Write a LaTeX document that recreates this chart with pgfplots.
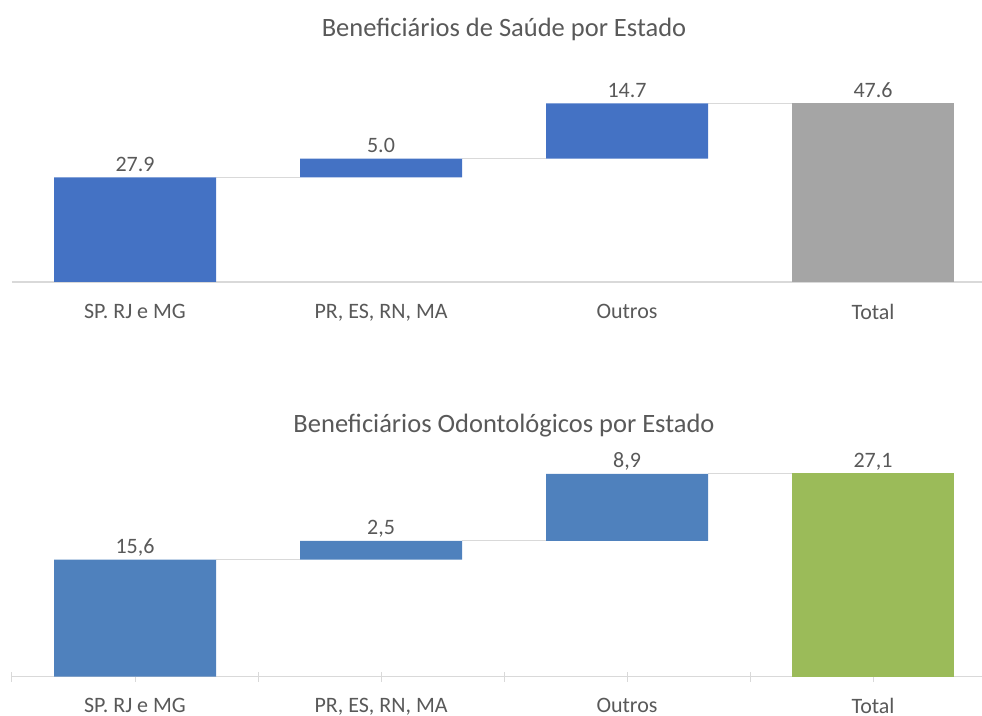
\documentclass[border=0pt]{standalone}
\usepackage{pgfplots}
\usepackage{pgfplotstable}
\pgfplotsset{compat=1.18}
\usepackage{fontspec}
\setmainfont{Carlito}
\definecolor{txt}{HTML}{595959}
\definecolor{axisgray}{HTML}{D9D9D9}
\definecolor{connc}{HTML}{D9D9D9}
\definecolor{blueA}{HTML}{4472C4}
\definecolor{grayA}{HTML}{A5A5A5}
\definecolor{blueB}{HTML}{4F81BD}
\definecolor{greenB}{HTML}{9BBB59}
\pgfplotstableread{
x top lab
0 27.9 27.9
1 32.9 5.0
2 47.6 14.7
3 47.6 47.6
}\labA
\pgfplotstableread{
x top lab
0 15.6 15,6
1 18.1 2,5
2 27.1 8,9
3 27.1 27,1
}\labB
\pgfplotsset{
  wf/.style={
    anchor=south west, scale only axis, width=970pt,
    xmin=-0.5, xmax=3.443, ymin=0,
    axis y line=none, axis x line*=bottom,
    x axis line style={-, draw=axisgray, line width=1.5pt},
    xtick={0,1,2,3},
    xticklabels={SP. RJ e MG, {PR, ES, RN, MA}, Outros, Total},
    xticklabel style={font=\fontsize{22}{26}\selectfont, text=txt, yshift=-19pt},
    clip=false,
  },
  lbl/.style={only marks, mark=none, point meta=explicit symbolic,
    nodes near coords={\pgfplotspointmeta},
    every node near coord/.append style={font=\fontsize{22}{26}\selectfont, text=txt, anchor=base, yshift=6pt, inner sep=0pt},
  },
  conn/.style={sharp plot, draw=connc, line width=1pt, mark=none},
}
\begin{document}
\begin{tikzpicture}[x=1pt,y=1pt]
\useasboundingbox (0,0) rectangle (982,715);
\node[font=\fontsize{26.5}{30}\selectfont, text=txt] at (504,686) {Beneficiários de Saúde por Estado};
\node[font=\fontsize{26.5}{30}\selectfont, text=txt] at (504,289) {Beneficiários Odontológicos por Estado};
% ---------- top chart ----------
\begin{axis}[wf, at={(12pt,433pt)}, height=202.5pt, ymax=54, hide axis]
\addplot[conn] coordinates {(0.33,27.9) (0.67,27.9)};
\addplot[conn] coordinates {(1.33,32.9) (1.67,32.9)};
\addplot[conn] coordinates {(2.33,47.6) (2.67,47.6)};
\addplot[lbl] table[x=x, y=top, meta=lab] {\labA};
\end{axis}
\begin{axis}[wf, at={(12pt,433pt)}, height=202.5pt, ymax=54,
  ybar stacked, bar width=162pt, major tick length=0pt]
\addplot[draw=none, fill=none] coordinates {(0,0) (1,27.9) (2,32.9) (3,0)};
\addplot[fill=blueA, draw=none] coordinates {(0,27.9) (1,5.0) (2,14.7) (3,0)};
\addplot[fill=grayA, draw=none] coordinates {(0,0) (1,0) (2,0) (3,47.6)};
\end{axis}
% ---------- bottom chart ----------
\begin{axis}[wf, at={(12pt,38.5pt)}, height=217.5pt, ymax=29, hide axis]
\addplot[conn] coordinates {(0.33,15.6) (0.67,15.6)};
\addplot[conn] coordinates {(1.33,18.1) (1.67,18.1)};
\addplot[conn] coordinates {(2.33,27.1) (2.67,27.1)};
\addplot[lbl] table[x=x, y=top, meta=lab] {\labB};
\end{axis}
\begin{axis}[wf, at={(12pt,38.5pt)}, height=217.5pt, ymax=29,
  ybar stacked, bar width=162pt,
  minor xtick={-0.5,0.5,1.5,2.5,3.5}, tick align=center,
  major tick length=10pt, minor tick length=10pt,
  tick style={draw=axisgray, line width=1pt},
  xticklabel style={yshift=6pt}]
\addplot[draw=none, fill=none] coordinates {(0,0) (1,15.6) (2,18.1) (3,0)};
\addplot[fill=blueB, draw=none] coordinates {(0,15.6) (1,2.5) (2,8.9) (3,0)};
\addplot[fill=greenB, draw=none] coordinates {(0,0) (1,0) (2,0) (3,27.1)};
\end{axis}
\end{tikzpicture}
\end{document}
